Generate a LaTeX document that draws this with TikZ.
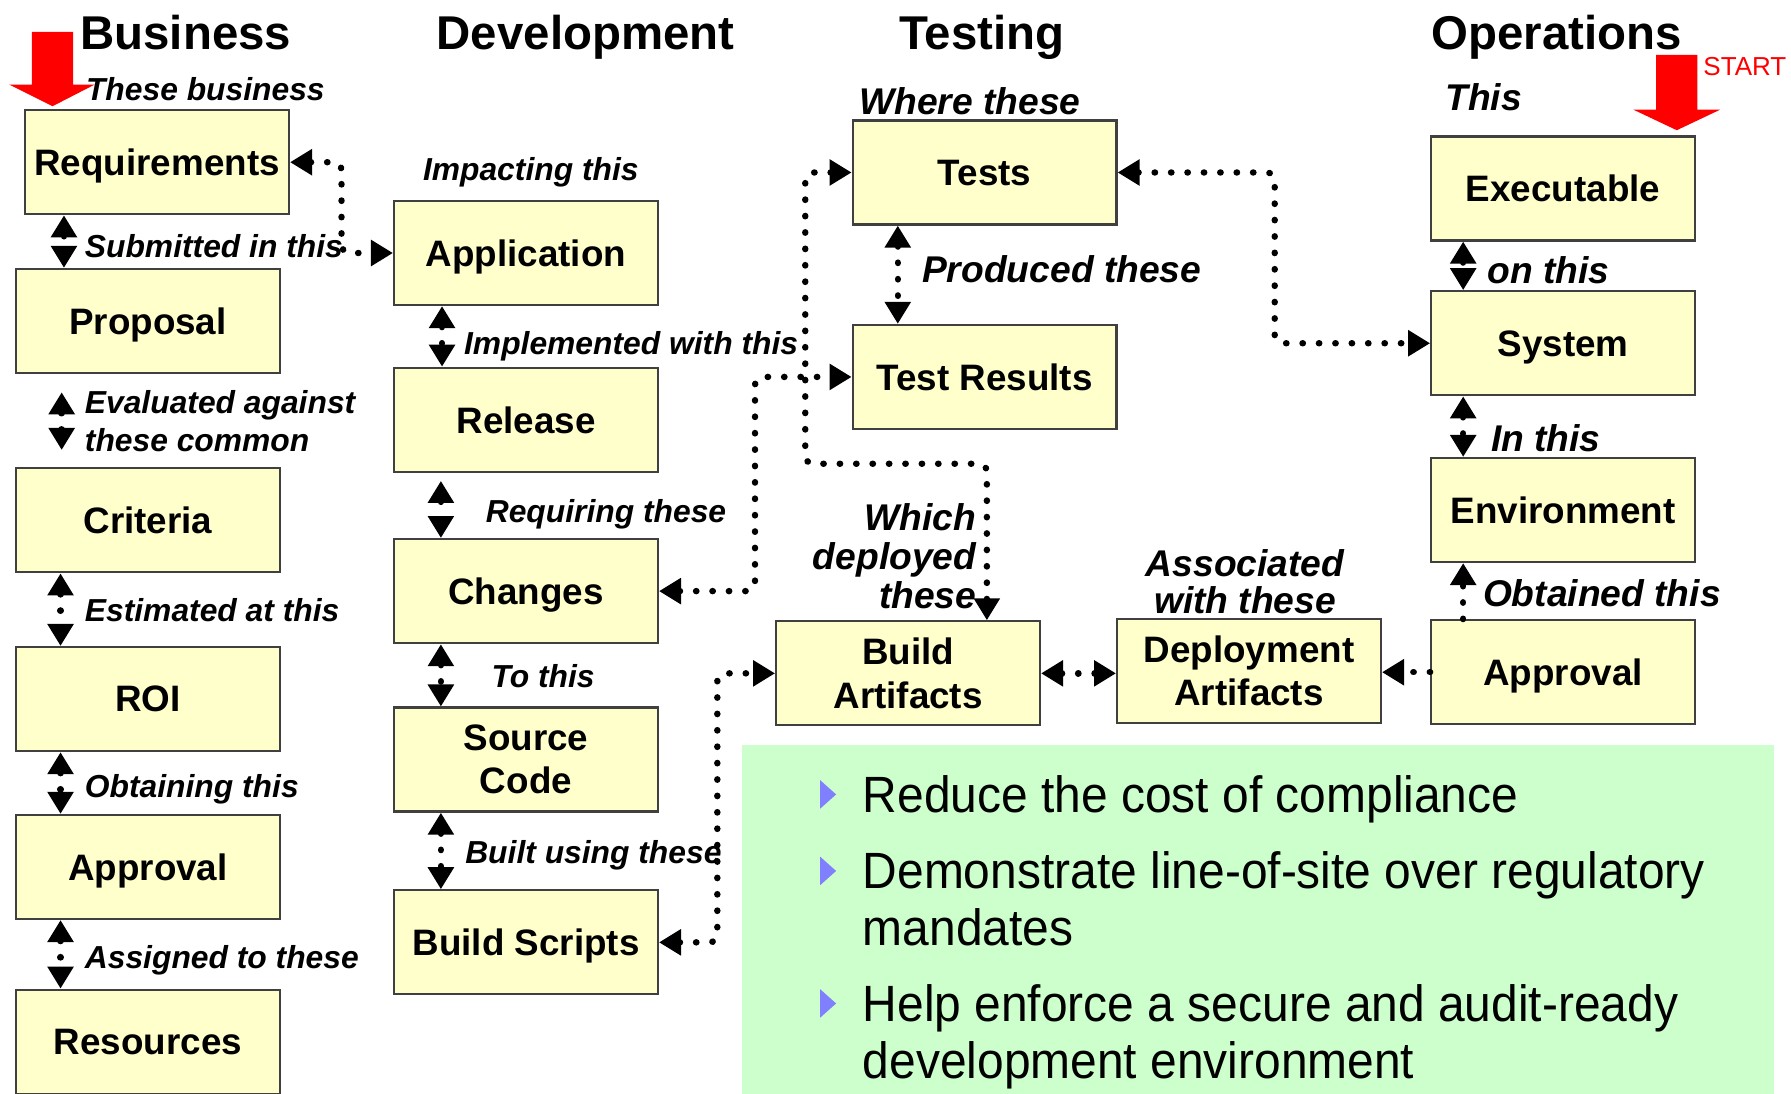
\documentclass[tikz,border=0pt]{standalone}
\usepackage{fontspec}
\setmainfont{Liberation Sans}
\usetikzlibrary{arrows.meta,calc}
\definecolor{boxfill}{HTML}{FFFFCC}
\definecolor{boxline}{HTML}{404040}
\definecolor{greenbg}{HTML}{CCFFCC}
\definecolor{bulletblue}{HTML}{8080FF}
\definecolor{startred}{HTML}{FF0000}
\begin{document}
\begin{tikzpicture}[x=0.5711pt,y=-0.5711pt,
 box/.style={draw=boxline, fill=boxfill, line width=1.1pt, minimum width=131.9pt, minimum height=52pt, inner sep=0pt, align=center, font=\fontsize{18.4}{21.7}\selectfont\bfseries},
 sbox/.style={box, text depth=0pt},
 lbl/.style={font=\fontsize{15.9}{20}\selectfont\bfseries\itshape, inner sep=0pt, anchor=base west},
 blbl/.style={lbl, font=\fontsize{18.6}{22}\selectfont\bfseries\itshape},
 ttl/.style={font=\fontsize{23.7}{28}\selectfont\bfseries, inner sep=0pt, anchor=base west},
 dotline/.style={line width=3.2pt, line cap=round, dash pattern=on 0.2pt off 8pt, rounded corners=4pt},
 biarrow/.style={dotline, {Triangle[width=12.5pt,length=11pt]}-{Triangle[width=12.5pt,length=11pt]}},
 toarrow/.style={dotline, -{Triangle[width=12.5pt,length=11pt]}},
 bul/.style={font=\fontsize{25.5}{28.6}\selectfont, inner sep=0pt, anchor=base west},
 bultri/.style={fill=bulletblue},
 redarrow/.style={fill=startred}
]
\useasboundingbox (0,0) rectangle (1568,957);
\fill[white] (0,0) rectangle (1568,957);

% green panel
\fill[greenbg] (650,652) rectangle (1553,965);
\fill[bultri] (718,683) -- (732,695.5) -- (718,708) -- cycle;
\fill[bultri] (718,750) -- (732,762.5) -- (718,775) -- cycle;
\fill[bultri] (718,866) -- (732,878.5) -- (718,891) -- cycle;
\node[bul] (b1) at (755,711) {\scalebox{0.94}[1]{Reduce the cost of compliance}};
\node[bul] (b2a) at (755,778) {\scalebox{0.94}[1]{Demonstrate line-of-site over regulatory}};
\node[bul] (b2b) at (755,828) {\scalebox{0.94}[1]{mandates}};
\node[bul] (b3a) at (755,894) {\scalebox{0.94}[1]{Help enforce a secure and audit-ready}};
\node[bul] (b3b) at (755,944) {\scalebox{0.94}[1]{development environment}};

% titles
\node[ttl] (t1) at (70,43) {Business};
\node[ttl] (t2) at (382,43) {Development};
\node[ttl] (t3) at (787,43) {Testing};
\node[ttl] (t4) at (1253,43) {Operations};

% boxes
\node[sbox] (req) at (137.5,142) {Requirements};
\node[sbox] (prop) at (129.5,281) {Proposal};
\node[sbox] (crit) at (129.5,455.5) {Criteria};
\node[sbox] (roi) at (129.5,612) {ROI};
\node[sbox] (appl) at (129.5,759) {Approval};
\node[sbox] (res) at (129.5,912) {Resources};
\node[sbox] (app) at (460.5,221.5) {Application};
\node[sbox] (rel) at (460.5,367.5) {Release};
\node[sbox] (chg) at (460.5,517.5) {Changes};
\node[box] (src) at (460.5,665) {Source\\Code};
\node[sbox] (bs) at (460.5,825) {Build Scripts};
\node[sbox] (tests) at (862,151) {Tests};
\node[sbox] (tr) at (862,330) {Test Results};
\node[box] (ba) at (795,589.5) {Build\\Artifacts};
\node[box] (da) at (1093.5,587.5) {Deployment\\Artifacts};
\node[sbox] (exe) at (1368.5,165) {Executable};
\node[sbox] (sys) at (1368.5,300.5) {System};
\node[sbox] (env) at (1368.5,446.5) {Environment};
\node[sbox] (appr) at (1368.5,588.5) {Approval};

% labels
\node[lbl] (l1) at (75,88) {These business};
\node[lbl] (l2) at (74,225) {Submitted in this};
\node[lbl] (l3) at (74,362) {Evaluated against};
\node[lbl] (l3b) at (74,395) {these common};
\node[lbl] (l4) at (74,544) {Estimated at this};
\node[lbl] (l5) at (74,698) {Obtaining this};
\node[lbl] (l6) at (74,848) {Assigned to these};
\node[lbl] (l7) at (370,158) {Impacting this};
\node[lbl] (l8) at (406,310) {Implemented with this};
\node[lbl] (l9) at (425,457) {Requiring these};
\node[lbl] (l10) at (430,602) {To this};
\node[lbl] (l11) at (407,756) {Built using these};
\node[blbl] (l12) at (752,100) {Where these};
\node[blbl] (l13) at (807,247) {Produced these};
\node[blbl, anchor=base east] (l14a) at (855,464) {Which};
\node[blbl, anchor=base east] (l14b) at (855,499) {deployed};
\node[blbl, anchor=base east] (l14c) at (855,533) {these};
\node[blbl, anchor=base] (l15a) at (1090,505) {Associated};
\node[blbl, anchor=base] (l15b) at (1090,537) {with these};
\node[blbl] (l16) at (1265,97) {This};
\node[blbl] (l17) at (1302,248) {on this};
\node[blbl] (l18) at (1305,395) {In this};
\node[blbl] (l19) at (1298,531) {Obtained this};

% red start arrows
\fill[redarrow] (28,28) -- (64,28) -- (64,74) -- (83,74) -- (46,93) -- (8,74) -- (28,74) -- cycle;
\fill[redarrow] (1450,48) -- (1486,48) -- (1486,96) -- (1506,96) -- (1468,114) -- (1430,96) -- (1450,96) -- cycle;
\node[anchor=base west, text=startred, font=\fontsize{13}{15}\selectfont, inner sep=0pt] (start) at (1491,66) {START};

% vertical connectors
\draw[biarrow] (56,0 |- req.south) -- (56,0 |- prop.north);
\draw[biarrow, shorten <=9.1pt, shorten >=8.6pt] (54,0 |- prop.south) -- (54,0 |- crit.north);
\draw[biarrow] (53,0 |- crit.south) -- (53,0 |- roi.north);
\draw[biarrow] (53,0 |- roi.south) -- (53,0 |- appl.north);
\draw[biarrow] (53,0 |- appl.south) -- (53,0 |- res.north);
\draw[biarrow] (387,0 |- app.south) -- (387,0 |- rel.north);
\draw[biarrow, shorten <=4pt] (386,0 |- rel.south) -- (386,0 |- chg.north);
\draw[biarrow] (386,0 |- chg.south) -- (386,0 |- src.north);
\draw[biarrow] (386,0 |- src.south) -- (386,0 |- bs.north);
\draw[biarrow] (786,0 |- tests.south) -- (786,0 |- tr.north);
\draw[biarrow] (1281,0 |- exe.south) -- (1281,0 |- sys.north);
\draw[biarrow] (1281,0 |- sys.south) -- (1281,0 |- env.north);
\draw[toarrow] (1281,0 |- appr.north) -- (1281,0 |- env.south);

% routed connectors
\draw[biarrow] (req.east) -- (299,142) -- (299,221.5) -- (app.west);
\draw[biarrow] (chg.east) -- (661,517.5) -- (661,330) -- (tr.west);
\draw[biarrow] (bs.east) -- (628,825) -- (628,589.5) -- (ba.west);
\draw[biarrow] (tests.west) -- (705,151) -- (705,406) -- (864,406) -- (864,0 |- ba.north);
\draw[biarrow] (tests.east) -- (1116,151) -- (1116,300.5) -- (sys.west);
\draw[biarrow] (ba.east) -- (ba.east -| da.west);
\draw[toarrow] (appr.west) -- (appr.west -| da.east);
\end{tikzpicture}
\end{document}
